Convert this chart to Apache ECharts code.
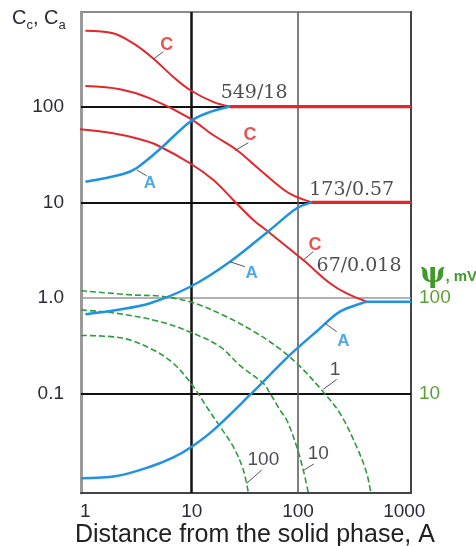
<!DOCTYPE html>
<html><head><meta charset="utf-8">
<script src="https://cdn.jsdelivr.net/npm/echarts@6/dist/echarts.min.js"></script>
<style>html,body{margin:0;padding:0;background:#fff}#c{width:476px;height:546px}</style>
</head><body><div id="c"></div>
<script>
// ---- axis ticks ----
const xTicks = [1, 10, 100, 1000];
const yTicks = [0.1, 1, 10, 100];
const yTickLabels = ['0.1', '1.0', '10', '100'];
const psiTicks = [10, 100];
const psiTickLabels = ['10', '100'];

// ---- red C curves (left axis) ----
const curveC1 = [[1,620],[1.82,582],[2.8,459],[4.32,320],[6.67,205],[9.64,149],[15.9,112],[22.9,100]];
const plateauC1 = [[22.9,100],[1160,100]];
const curveC2 = [[1,164],[2.12,152],[4.06,122],[9.64,75.5],[15.9,50.5],[26.5,35.2],[44,21.8],[78.3,12.9],[105,11.0],[135,10]];
const plateauC2 = [[135,10],[1160,10]];
const curveC3 = [[0.87,58],[1.82,52.6],[3.26,45.6],[4.69,39.7],[9.64,25.6],[16,17.1],[24.6,10.6],[38,6.55],[52.5,4.94],[112,2.5],[200,1.43],[287,1.12],[443,0.92]];

// ---- blue A curves (left axis) ----
const curveA1 = [[1,16.4],[2.27,19.8],[3.04,22.9],[5.04,36.1],[9.64,69.5],[13.8,85.2],[22.9,100]];
const curveA2 = [[1,0.68],[1.97,0.753],[4.06,0.885],[10,1.34],[22.9,2.4],[54.5,5.15],[97.3,8.68],[135,10]];
const curveA3 = [[0.91,0.0132],[1.97,0.0139],[4.06,0.0174],[6.71,0.0218],[10,0.0282],[16,0.042],[35.3,0.0977],[84.1,0.256],[155,0.466],[248,0.723],[411,0.898],[443,0.92],[1160,0.92]];

// ---- green dashed psi curves (right axis, mV) ----
const psi1 = [[0.91,119.7],[2.82,108],[5.04,105],[10,90.6],[21.3,64],[40.9,43],[67.7,29.5],[105,19.3],[173,10.5],[248,6.3],[357,2.8],[443,1.49],[483,0.93]];
const psi10 = [[0.91,75.3],[1.97,69.5],[5.04,56.9],[10,43.6],[18.5,31.2],[28.5,19.8],[47.2,12.9],[54.5,10.2],[67.7,6.8],[78.3,5.35],[97.2,2.82],[112,1.61],[125,0.93]];
const psi100 = [[0.91,40.8],[2.12,38.7],[4.06,30],[6.71,20.9],[10.4,11.9],[13.8,7.36],[18.5,4.56],[24.6,2.82],[30.6,1.61],[34.1,0.93]];

// ---- annotations ----
const cLabelPos = [[5.82,440],[35.3,50.5],[144.6,3.59]];
const cLeaders = [[[4.35,312],[5.41,374]],[[25.5,34.7],[34.1,42]],[[112,2.5],[139,3.06]]];
const aLabelPos = [[4.05,15.8],[36.7,1.82],[267,0.351]];
const aLeaders = [[[3.04,21.8],[3.78,18.9]],[[22.9,2.4],[31.7,2.13]],[[179.6,0.547],[231,0.447]]];
const psiLabelText = ['1','10','100'];
const psiLabelPos = [[223,17.8],[155,2.4],[47.2,2.05]];
const psiLeaders = [[[173,11.2],[231,14.2]],[[114,1.61],[141,1.86]],[[32.9,1.17],[45.6,1.61]]];
const ratioText = ['549/18','173/0.57','67/0.018'];
const ratioPos = [[38.6,139],[320,13.6],[375,2.18]];

const RED = '#e3262b', BLUE = '#1f93e0', GREEN = '#2e9b3f', TXT = '#2b2b3a';

function nearIdx(arr, v){
  const lv = Math.log10(v);
  return arr.findIndex(t => Math.abs(Math.log10(t) - lv) < 1e-6);
}

const chart = echarts.init(document.getElementById('c'), null, {renderer:'canvas'});

function curve(data, color, width, z, yi, dashed){
  return {type:'line', data, xAxisIndex:0, yAxisIndex: yi||0, symbol:'none', smooth:0.35,
    z, silent:true, clip:true,
    lineStyle:{color, width, type: dashed ? [6,3] : 'solid'}};
}
function leaderLines(leaders){
  return {symbol:'none', silent:true, z:6, label:{show:false},
    lineStyle:{color:'#555', width:1, type:'solid'},
    data: leaders.map(l => [{coord:l[0]},{coord:l[1]}])};
}

const gridLines = [
  {yAxis:100, lineStyle:{color:'#111', width:2, type:'solid'}},
  {yAxis:10, lineStyle:{color:'#111', width:2, type:'solid'}},
  {yAxis:1, lineStyle:{color:'#999', width:1.5, type:'solid'}},
  {yAxis:0.1, lineStyle:{color:'#111', width:2, type:'solid'}},
  {xAxis:10, lineStyle:{color:'#111', width:2.5, type:'solid'}},
  {xAxis:100, lineStyle:{color:'#555', width:1.5, type:'solid'}}
];

const option = {
  animation:false,
  backgroundColor:'#fff',
  title:[
    {left:12, top:8, padding:0,
     text:'{b|C}{s|c}{b|, C}{s|a}',
     textStyle:{fontWeight:'normal', rich:{
       b:{fontSize:20, fontWeight:'normal', fontFamily:'Liberation Sans', color:TXT, lineHeight:20, verticalAlign:'top'},
       s:{fontSize:13, fontWeight:'normal', fontFamily:'Liberation Sans', color:TXT, lineHeight:13, padding:[11,0,0,0], verticalAlign:'top'}
     }}},
    {left:75, top:523, padding:0, text:'Distance from the solid phase, A',
     textStyle:{fontSize:25, fontWeight:'normal', fontFamily:'Liberation Sans', color:'#222'}},
    {left:420, top:261, padding:0, text:'{p|ψ}{u|, mV}',
     textStyle:{rich:{
       p:{fontSize:27, fontWeight:'bold', fontFamily:'DejaVu Serif', color:'#3f9a2a', verticalAlign:'bottom'},
       u:{fontSize:15, fontWeight:'bold', fontFamily:'Liberation Sans', color:'#3f9a2a', verticalAlign:'bottom', padding:[0,0,4,0]}
     }}}
  ],
  grid:{left:81, right:65, top:12, bottom:53, show:true, borderColor:'#8a8a8a', borderWidth:2, containLabel:false},
  xAxis:[{
    type:'log', min:0.909, max:1156, logBase:10,
    axisLine:{show:true, onZero:false, lineStyle:{color:'#444', width:2}},
    axisTick:{show:false}, splitLine:{show:false}, minorTick:{show:false},
    axisLabel:{margin:9, fontSize:19, fontFamily:'Liberation Sans', color:TXT,
      formatter: v => { const i = nearIdx(xTicks, v); return i >= 0 ? String(xTicks[i]) : ''; }}
  }],
  yAxis:[{
    type:'log', min:0.00926, max:971, logBase:10, position:'left',
    axisLine:{show:true, onZero:false, lineStyle:{color:'#9a9a9a', width:3}},
    axisTick:{show:false}, splitLine:{show:false},
    axisLabel:{margin:17, fontSize:19, fontFamily:'Liberation Sans', color:TXT,
      formatter: v => { const i = nearIdx(yTicks, v); return i >= 0 ? yTickLabels[i] : ''; }}
  },{
    type:'log', min:0.926, max:97100, logBase:10, position:'right',
    axisLine:{show:true, onZero:false, lineStyle:{color:'#444', width:2}},
    axisTick:{show:false}, splitLine:{show:false},
    axisLabel:{margin:8, fontSize:19, fontFamily:'Liberation Sans', color:'#5e9f34',
      formatter: v => { const i = nearIdx(psiTicks, v); return i >= 0 ? psiTickLabels[i] : ''; }}
  }],
  series:[
    {type:'line', data:[], symbol:'none', z:1, silent:true,
     markLine:{symbol:'none', silent:true, z:1, label:{show:false}, data:gridLines}},
    curve(psi1, GREEN, 1.6, 2, 1, true),
    curve(psi10, GREEN, 1.6, 2, 1, true),
    curve(psi100, GREEN, 1.6, 2, 1, true),
    curve(curveC1, RED, 2, 3),
    curve(curveC2, RED, 2, 3),
    curve(curveC3, RED, 2, 3),
    curve(plateauC1, RED, 3.2, 4),
    curve(plateauC2, RED, 3.2, 4),
    curve(curveA1, BLUE, 2.5, 5),
    curve(curveA2, BLUE, 2.5, 5),
    curve(curveA3, BLUE, 2.5, 5),
    {type:'scatter', yAxisIndex:0, symbolSize:0, z:6, silent:true,
     data: cLabelPos,
     label:{show:true, position:'inside', formatter:'C', fontSize:18, fontWeight:'bold', fontFamily:'Liberation Sans', color:RED},
     markLine: leaderLines(cLeaders)},
    {type:'scatter', yAxisIndex:0, symbolSize:0, z:6, silent:true,
     data: aLabelPos,
     label:{show:true, position:'inside', formatter:'A', fontSize:17, fontWeight:'bold', fontFamily:'Liberation Sans', color:BLUE},
     markLine: leaderLines(aLeaders)},
    {type:'scatter', yAxisIndex:1, symbolSize:0, z:6, silent:true,
     data: psiLabelPos.map((p,i) => ({value:p, label:{formatter:psiLabelText[i]}})),
     label:{show:true, position:'inside', fontSize:19, fontFamily:'Liberation Sans', color:'#1e1e30'},
     markLine: leaderLines(psiLeaders)},
    {type:'scatter', yAxisIndex:0, symbolSize:0, z:6, silent:true,
     data: ratioPos.map((p,i) => ({value:p, label:{formatter:ratioText[i]}})),
     label:{show:true, position:'inside', fontSize:19, fontFamily:'DejaVu Serif', color:'#222'}}
  ]
};
chart.setOption(option);
</script></body></html>
